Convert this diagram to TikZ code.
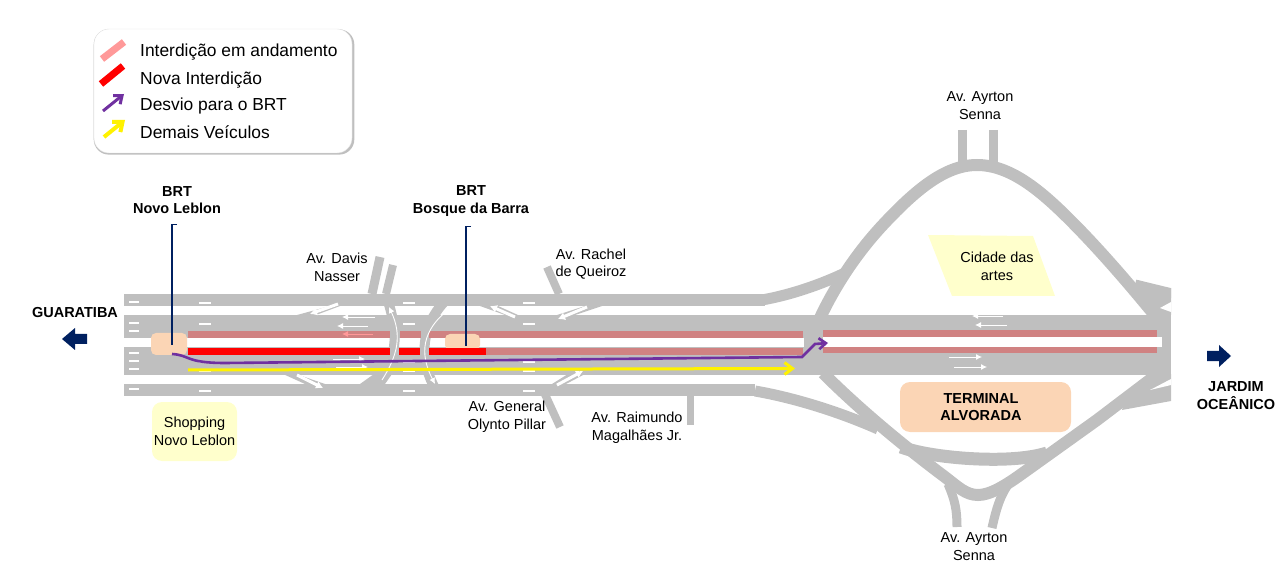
\documentclass[tikz,border=0pt]{standalone}
\usepackage{fontspec}
\setmainfont{Liberation Sans}
\usetikzlibrary{arrows.meta,shadows}
\definecolor{estrada}{HTML}{BFBFBF}
\definecolor{rosa}{HTML}{D08282}
\definecolor{rosaclaro}{HTML}{FF9999}
\definecolor{roxo}{HTML}{7030A0}
\definecolor{marinho}{HTML}{002060}
\definecolor{laranja}{HTML}{FBD5B5}
\definecolor{creme}{HTML}{FFFFCC}

\begin{document}
\begin{tikzpicture}[x=1pt,y=-1pt,
  rua/.style={draw=estrada,line width=#1},
  rotulo/.style={inner sep=0pt,align=center,font=\fontsize{14.5}{17.7}\selectfont},
  negrito/.style={inner sep=0pt,align=center,font=\fontsize{14.5}{17.7}\selectfont\bfseries},
  legenda/.style={inner sep=0pt,anchor=west,font=\fontsize{17.4}{20}\selectfont},
  mao/.style={draw=white,line width=0.9pt,-{Latex[length=6pt,width=6pt]}},
  contramao/.style={draw=white,line width=1pt,double=white,double distance=1pt,-{Latex[length=7pt,width=8pt]}},
  aviso/.style={draw=marinho,line width=1.4pt}]
\useasboundingbox (0,0) rectangle (1280,569);
\newcommand\tracos[1]{
\path[draw=white,line width=2pt] (#1-6,303.5) -- (#1+6,303.5);
\path[draw=white,line width=2pt] (#1-6,324.5) -- (#1+6,324.5);
\path[draw=rosaclaro,line width=2pt] (#1-6,333.5) -- (#1+6,333.5);
\path[draw=white,line width=2pt] (#1-6,361.5) -- (#1+6,361.5);
\path[draw=white,line width=2pt] (#1-6,370.5) -- (#1+6,370.5);
\path[draw=white,line width=2pt] (#1-6,390.5) -- (#1+6,390.5);
}
\begin{scope}
\clip (124,0) rectangle (1171,569);
% pistas
\path[fill=estrada] (124,294) rectangle (765,306);
\path[fill=estrada] (124,315) rectangle (1171,374.5);
\path[fill=estrada] (124,384) rectangle (755,396);
\path[fill=white] (124,338) rectangle (804,347.5);
\path[fill=white] (823,337.5) rectangle (1162,347);
\path[fill=estrada] (390,336) rectangle (399,350);
\path[fill=estrada] (420.5,336) rectangle (429,350);
% cruzamento
\path[rua=10pt] (387,298) .. controls (399,335) and (399,360) .. (371,392);
\path[rua=10pt] (448,298) .. controls (420,325) and (418,360) .. (437,392);
\path[fill=estrada] (297,315) -- (330,306) -- (340,306) -- (316,315) -- cycle;
\path[fill=estrada] (283,374) -- (296,374) -- (325,384) -- (305,384) -- cycle;
\path[fill=estrada] (360,384) -- (385,384) -- (392,374) -- (374,374) -- cycle;
\path[fill=estrada] (480,306) -- (498,306) -- (518,315) -- (505,315) -- cycle;
\path[fill=estrada] (557,315) -- (585,306) -- (602,306) -- (575,315) -- cycle;
\path[fill=estrada] (552,384) -- (566,384) -- (585,374) -- (568,374) -- cycle;
% vias transversais
\path[rua=9pt] (380,257) -- (372,294);
\path[rua=8pt] (393,265) -- (386,294);
\path[rua=8pt] (547,267) -- (559,294);
\path[rua=8pt] (543,390) -- (560,427);
\path[rua=7pt] (690,396) -- (690,425);
% anel
\path[rua=11pt] (762,300) .. controls (790,295) and (820,285) .. (847,272);
\path[rua=11pt] (755,391) .. controls (790,397) and (835,410) .. (878,429);
\path[rua=13pt] (901,447) .. controls (930,458) and (1010,465) .. (1047,453);
\path[rua=9pt] (962,130) -- (962,165);
\path[rua=9pt] (993,130) -- (993,165);
\path[rua=9pt] (948,484) .. controls (955,500) and (957,510) .. (957,527);
\path[rua=9pt] (1010,482) .. controls (1000,495) and (996,510) .. (992,528);
\path[rua=12pt] (820,318) .. controls (838,280) and (860,250) .. (880,228) .. controls (915,190) and (945,165) .. (977,165) .. controls (1010,165) and (1040,190) .. (1070,220) .. controls (1100,250) and (1130,285) .. (1157,318);
\path[rua=12pt] (823,373) .. controls (860,410) and (905,447) .. (945,477) .. controls (958,487) and (966,495) .. (978,495) .. controls (990,495) and (1005,486) .. (1023,473) -- (1097,420) -- (1155,376);
\path[rua=11pt] (1135,285) -- (1172,294);
\path[fill=estrada] (1140,290) -- (1171,288) -- (1171,315) -- (1155,315) -- cycle;
\path[fill=estrada] (1125,400) -- (1153,374) -- (1171,374) -- (1171,401) -- (1122,410) -- cycle;
\path[fill=white] (1160,308) -- (1171,302) -- (1171,312) -- cycle;
\path[fill=white] (1150,390) -- (1171,379) -- (1171,385) -- cycle;
\end{scope}
% marcas de pista
\path[draw=white,line width=2pt] (129,302) -- (139,302);
\path[draw=white,line width=2pt] (129,323) -- (139,323);
\path[draw=white,line width=2pt] (129,331) -- (139,331);
\path[draw=white,line width=2pt] (129,353) -- (139,353);
\path[draw=white,line width=2pt] (129,361) -- (139,361);
\path[draw=white,line width=2pt] (129,369) -- (139,369);
\path[draw=white,line width=2pt] (129,389) -- (139,389);
\tracos{205}
\tracos{409}
\tracos{529}
% interdicoes
\path[fill=rosa] (188,331) rectangle (390,338);
\path[fill=rosa] (400,331) rectangle (421,338);
\path[fill=rosa] (429,331) rectangle (803,338);
\path[fill=rosa] (486,348) rectangle (803,355);
\path[fill=rosa] (823,330) rectangle (1157,337.5);
\path[fill=rosa] (823,347) rectangle (1157,353.5);
% estacoes
\node[fill=laranja,rounded corners=5pt,inner sep=0pt,minimum width=36pt,minimum height=22pt] (novoleblon) at (169,344) {};
\node[fill=laranja,rounded corners=5pt,inner sep=0pt,minimum width=35pt,minimum height=16pt] (bosque) at (462.5,342) {};
\path[fill=red] (188,348) rectangle (390,355);
\path[fill=red] (399,348) rectangle (420,355);
\path[fill=red] (429,348) rectangle (486,355);
% setas da via
\path[mao] (375,317) -- (342,317);
\path[mao] (368,326) -- (337,326);
\path[mao,draw=rosaclaro] (373,334) -- (342,334);
\path[mao] (333,359) -- (365,359);
\path[mao] (336,367) -- (368,367);
\path[mao] (1003,316) -- (972,316);
\path[mao] (1007,325) -- (975,325);
\path[mao] (949,357) -- (982,357);
\path[mao] (954,367) -- (987,367);
\path[contramao] (338,304) -- (310,314);
\path[contramao] (297,375) -- (323,388);
\path[contramao] (515,317) -- (490,306);
\path[contramao] (587,307) -- (558,319);
\path[contramao] (557,385) -- (583,371);
\path[mao] (382,380) .. controls (398,355) and (402,335) .. (389,307);
\path[mao] (452,307) .. controls (420,330) and (420,355) .. (435,384);
% desvios
\path[draw=roxo,line width=2.6pt,-{Straight Barb[length=7pt,width=11pt]}] (172,354) .. controls (190,355) and (185,363) .. (225,363) -- (802,357) -- (815,344) -- (828,343);
\path[draw=yellow,line width=3pt,-{Straight Barb[length=8pt,width=12pt]}] (188,370) -- (795,368.5);
% estacoes BRT
\path[aviso] (177,224.5) -- (172,224.5) -- (172,345);
\path[aviso] (471,226.5) -- (466,226.5) -- (466,346);
\node[negrito] (brtleblon) at (177,200) {BRT\\Novo Leblon};
\node[negrito] (brtbosque) at (471,201) {BRT\\Bosque da Barra};
% vias
\node[rotulo] (davis) at (337,267.5) {Av. Davis\\Nasser};
\node[rotulo] (rachel) at (591,264) {Av. Rachel\\de Queiroz};
\node[rotulo] (general) at (507,416.5) {Av. General\\Olynto Pillar};
\node[rotulo] (raimundo) at (637,428) {Av. Raimundo\\Magalhães Jr.};
\node[rotulo] (ayrtoncima) at (980,105.5) {Av. Ayrton\\Senna};
\node[rotulo] (ayrtonbaixo) at (974,546.5) {Av. Ayrton\\Senna};
% areas
\node[fill=creme,rounded corners=10pt,rotulo,minimum width=85pt,minimum height=59pt] (shopping) at (194.5,431.5) {Shopping\\Novo Leblon};
\path[fill=creme] (928,235) -- (1033,236) -- (1055,296) -- (952,296) -- cycle;
\node[rotulo] (cidade) at (997,266) {Cidade das\\artes};
\node[fill=laranja,rounded corners=10pt,negrito,minimum width=171pt,minimum height=50pt] (terminal) at (985.5,407) {};
\node[negrito] (alvorada) at (981,407) {TERMINAL\\ALVORADA};
% sentidos
\path[fill=marinho] (87,334) -- (75,334) -- (75,328) -- (62,339) -- (75,350) -- (75,344) -- (87,344) -- cycle;
\path[fill=marinho] (1207,351) -- (1219,351) -- (1219,345) -- (1231,356) -- (1219,367) -- (1219,361) -- (1207,361) -- cycle;
\node[negrito] (guaratiba) at (75,312.5) {GUARATIBA};
\node[negrito] (jardim) at (1236,395.5) {JARDIM\\OCEÂNICO};
% legenda
\node[fill=white,draw=black!12,rounded corners=15pt,minimum width=258pt,minimum height=124pt,inner sep=0pt,general shadow={fill=gray,opacity=0.5,shadow scale=1.01,shadow xshift=1pt,shadow yshift=-1pt}] (caixa) at (223,91) {};
\path[draw=rosaclaro,line width=7pt] (102,59) -- (124,42);
\path[draw=red,line width=7pt] (101,84) -- (123,66);
\path[draw=roxo,line width=3pt,-{Straight Barb[length=7pt,width=11pt]}] (103,111) -- (124,94);
\path[draw=yellow,line width=4pt,-{Straight Barb[length=8pt,width=13pt]}] (104,137) -- (125,120);
\node[legenda] (andamento) at (140,52.5) {Interdição em andamento};
\node[legenda] (nova) at (140,80) {Nova Interdição};
\node[legenda] (brt) at (140,106) {Desvio para o BRT};
\node[legenda] (demais) at (140,132.5) {Demais Veículos};
\end{tikzpicture}
\end{document}
